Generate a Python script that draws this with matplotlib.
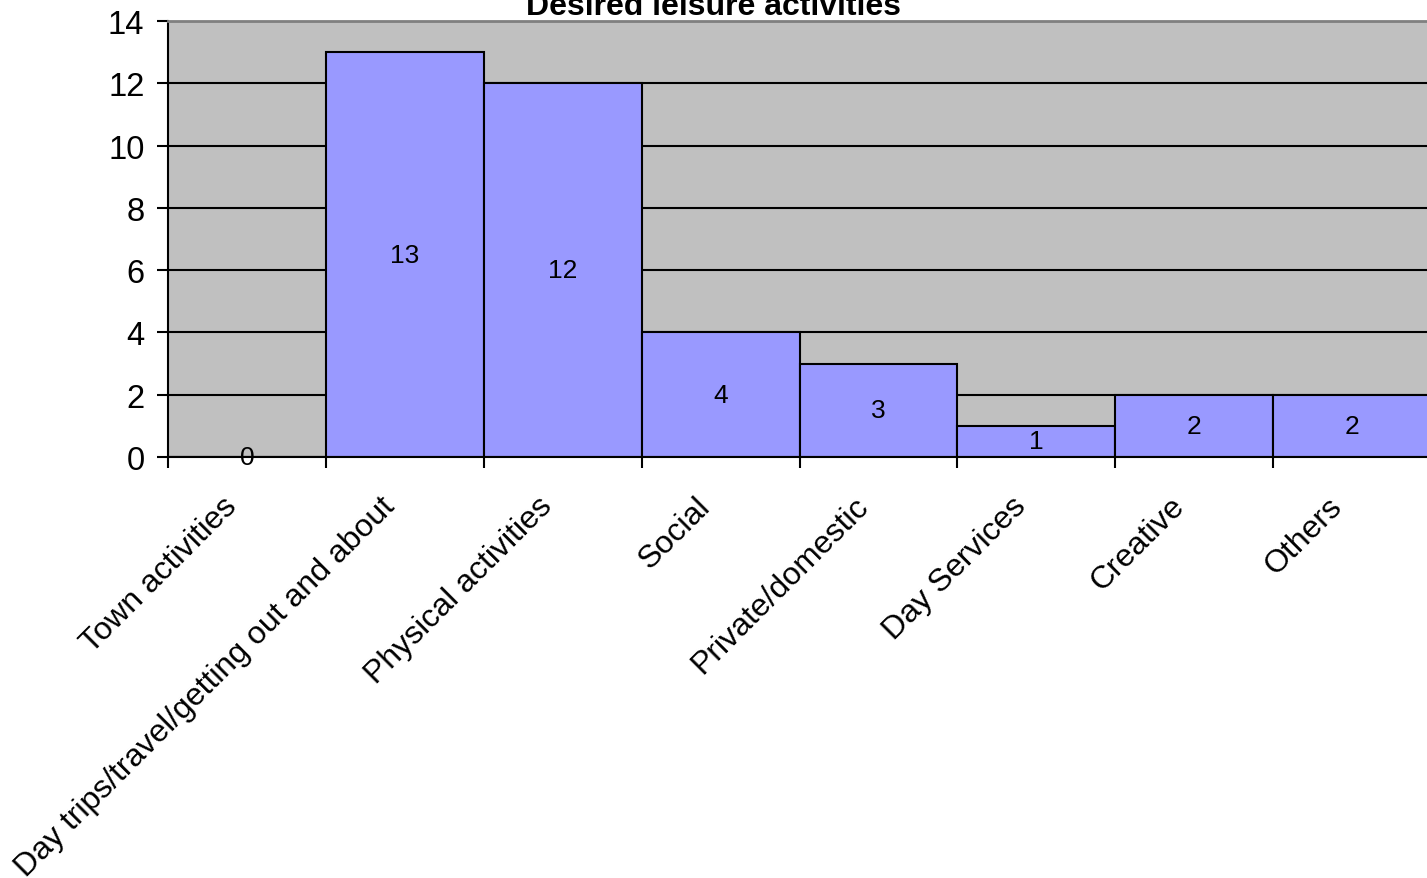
import matplotlib
matplotlib.use("Agg")
import matplotlib.pyplot as plt
import numpy as np

categories = ["Town activities", "Day trips/travel/getting out and about",
              "Physical activities", "Social", "Private/domestic",
              "Day Services", "Creative", "Others"]
counts = [0, 13, 12, 4, 3, 1, 2, 2]
y_ticks = [0, 2, 4, 6, 8, 10, 12, 14]

plt.rcParams["font.family"] = ["Liberation Sans", "DejaVu Sans"]

W, H = 1427, 879
fig = plt.figure(figsize=(W / 100, H / 100), dpi=100)
ax = fig.add_axes([168 / W, 1 - 458 / H, 1263 / W, 436 / H])
ax.set_facecolor("#c0c0c0")

x = np.arange(len(categories))
ax.set_axisbelow(True)
ax.yaxis.grid(True, color="black", linewidth=1.5)
ax.bar(x, counts, width=1.0, color="#9999ff", edgecolor="black", linewidth=1.5)

for xi, v in zip(x, counts):
    ax.text(xi, v / 2, str(v), ha="center", va="center", fontsize=19)

ax.set_xlim(-0.5, len(categories) - 0.5)
ax.set_ylim(0, 14)
ax.set_yticks(y_ticks)
ax.tick_params(axis="y", labelsize=23.5, length=8, width=1.5, pad=9)

ax.set_xticks(np.arange(-0.5, len(categories)), labels=[])
ax.tick_params(axis="x", length=8, width=1.5)

# category labels, rotated, ending just left of the bar centre
for xi, name in zip(x, categories):
    ax.annotate(name, xy=(xi, 0), xycoords=("data", "axes fraction"),
                xytext=(-6.5, -36), textcoords="offset points",
                rotation=45, ha="right", va="baseline",
                rotation_mode="anchor", fontsize=23, annotation_clip=False)

for side in ["left", "bottom"]:
    ax.spines[side].set_linewidth(1.5)
ax.spines["top"].set_color("#808080")
ax.spines["top"].set_linewidth(2)
ax.spines["right"].set_visible(False)

fig.text(0.5, 1 - 15 / H, "Desired leisure activities", ha="center",
         va="baseline", fontsize=23, fontweight="bold")

fig.savefig("out.png", dpi=100)
